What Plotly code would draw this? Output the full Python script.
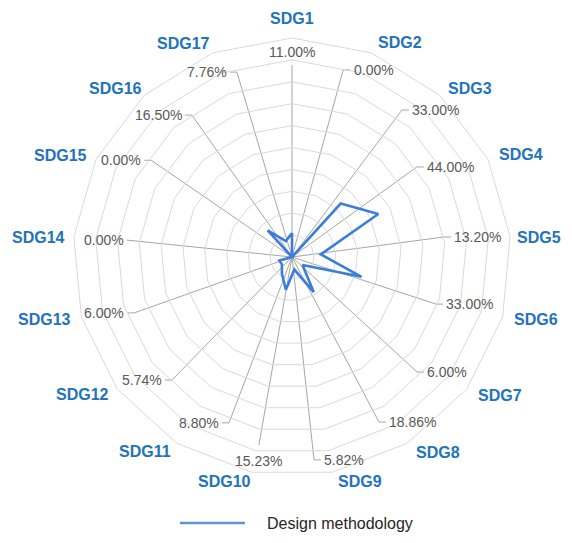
import math
import plotly.graph_objects as go

categories = ["SDG1", "SDG2", "SDG3", "SDG4", "SDG5", "SDG6", "SDG7", "SDG8", "SDG9",
              "SDG10", "SDG11", "SDG12", "SDG13", "SDG14", "SDG15", "SDG16", "SDG17"]
values = [11.00, 0.00, 33.00, 44.00, 13.20, 33.00, 6.00, 18.86, 5.82,
          15.23, 8.80, 5.74, 6.00, 0.00, 0.00, 16.50, 7.76]
series_name = "Design methodology"

# where each data label sits (end of its leader line): radius in axis units,
# angle in degrees clockwise from the top, and which side the text goes
label_r = [87.7, 88.6, 83.8, 70.3, 70.0, 69.2, 77.6, 85.2, 93.2,
           87.2, 81.0, 78.5, 76.5, 72.6, 78.0, 79.3, 88.1]
label_theta = [0, 15.3, 36.8, 54.2, 82.5, 108.1, 132.6, 152.2, 173.8,
               190.0, 200.8, 224.3, 250.5, 276.1, 304.5, 324.8, 343.4]
label_side = ["top", "right", "right", "right", "right", "right", "right", "right", "right",
              "bottom", "left", "left", "left", "left", "left", "left", "left"]

# category name positions (centre of text), same units
cat_r = [109.1, 109.6, 111.9, 114.6, 113.2, 114.8, 114.2, 111.4, 107.3,
         107.3, 111.4, 114.4, 116.4, 116.3, 115.3, 111.4, 109.6]
cat_theta = [0, 26.8, 46.5, 66.0, 85.5, 104.4, 123.6, 143.2, 163.2,
             196.8, 217.0, 236.6, 255.7, 274.5, 293.8, 313.8, 333.0]

BLUE = "#3b7ddd"
CAT_BLUE = "#2273b9"
GRID = "#d9d9d9"
LEADER = "#a6a6a6"
FONT = "Liberation Sans"
TICK = 3.2

# page body has an 8px margin, so the figure is 16px smaller than the window
FIG_W, FIG_H = 556, 527
CX, CY = 284, 249        # radar centre in figure pixels (from top-left)
R = 219                  # radar radius in pixels (= 100 axis units)
PX = R / 100.0


def to_xy(r, th):
    a = math.radians(th)
    return r * math.sin(a), r * math.cos(a)


fig = go.Figure()

# leader lines (cartesian overlay sharing the polar centre / radius)
lx, ly = [], []
annotations = []
for val, r, th, side in zip(values, label_r, label_theta, label_side):
    x, y = to_xy(r, th)
    lx += [0, x]
    ly += [0, y]
    text = f"{val:.2f}%"
    if side == "right":
        lx.append(x + TICK)
        ly.append(y)
        annotations.append(dict(x=x + TICK + 0.6, y=y, text=text, xanchor="left", yanchor="middle"))
    elif side == "left":
        lx.append(x - TICK)
        ly.append(y)
        annotations.append(dict(x=x - TICK - 0.6, y=y, text=text, xanchor="right", yanchor="middle"))
    elif side == "top":
        annotations.append(dict(x=x, y=y + 1.5, text=text, xanchor="center", yanchor="bottom"))
    else:
        annotations.append(dict(x=x, y=y - 2.5, text=text, xanchor="center", yanchor="top"))
    lx.append(None)
    ly.append(None)

for ann in annotations:
    ann.update(xref="x", yref="y", showarrow=False,
               font=dict(family=FONT, size=14, color="#595959"))

for name, r, th in zip(categories, cat_r, cat_theta):
    x, y = to_xy(r, th)
    annotations.append(dict(x=x, y=y, xref="x", yref="y", text=f"<b>{name}</b>",
                            showarrow=False, xanchor="center", yanchor="middle",
                            font=dict(family=FONT, size=16, color=CAT_BLUE)))

fig.add_trace(go.Scatter(
    x=lx, y=ly, mode="lines",
    line=dict(color=LEADER, width=1),
    hoverinfo="skip", showlegend=False
))

fig.add_trace(go.Scatterpolar(
    r=values + [values[0]],
    theta=categories + [categories[0]],
    mode="lines",
    line=dict(color=BLUE, width=2.6),
    name=series_name,
    showlegend=False
))

# legend drawn by hand so the sample line is as long as in the original
annotations.append(dict(xref="paper", yref="paper", x=257 / FIG_W, y=(FIG_H - 515) / FIG_H,
                        text=series_name, showarrow=False, xanchor="left", yanchor="middle",
                        font=dict(family=FONT, size=16, color="#262626")))

fig.update_layout(
    width=FIG_W,
    height=FIG_H,
    margin=dict(l=0, r=0, t=0, b=0),
    paper_bgcolor="white",
    plot_bgcolor="rgba(0,0,0,0)",
    showlegend=False,
    xaxis=dict(domain=[0, 1], range=[-CX / PX, (FIG_W - CX) / PX],
               visible=False, fixedrange=True),
    yaxis=dict(domain=[0, 1], range=[-(FIG_H - CY) / PX, CY / PX],
               visible=False, fixedrange=True),
    polar=dict(
        domain=dict(x=[(CX - R) / FIG_W, (CX + R) / FIG_W],
                    y=[(FIG_H - CY - R) / FIG_H, (FIG_H - CY + R) / FIG_H]),
        bgcolor="rgba(0,0,0,0)",
        gridshape="linear",
        radialaxis=dict(range=[0, 100], dtick=10, showticklabels=False, ticks="",
                        showline=False, gridcolor=GRID, gridwidth=1),
        angularaxis=dict(direction="clockwise", rotation=90, showgrid=False,
                         showline=True, linecolor=GRID, linewidth=1,
                         showticklabels=False, ticks=""),
    ),
    shapes=[dict(type="line", xref="paper", yref="paper",
                 x0=172 / FIG_W, x1=237 / FIG_W,
                 y0=(FIG_H - 515) / FIG_H, y1=(FIG_H - 515) / FIG_H,
                 line=dict(color="#5a96d8", width=2.5))],
    annotations=annotations,
)

fig.write_html("out.html")
